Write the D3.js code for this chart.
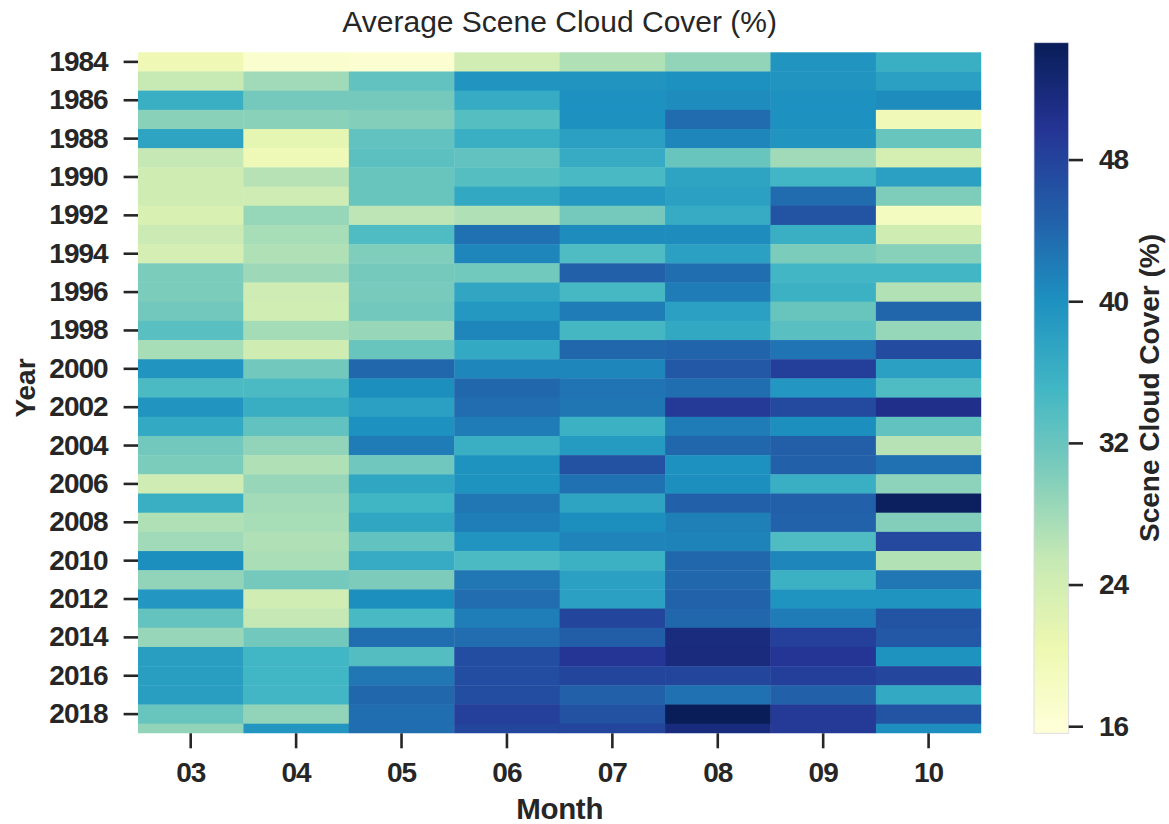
<!DOCTYPE html>
<html>
<head>
<meta charset="utf-8">
<script src="https://cdn.jsdelivr.net/npm/d3@7"></script>
<style>
  html, body { margin: 0; padding: 0; background: #ffffff; }
  svg { display: block; font-family: "Liberation Sans", Arial, Helvetica, sans-serif; }
</style>
</head>
<body>
<svg id="chart" width="1169" height="824"></svg>
<script>
// ---- data -------------------------------------------------------------
const months = ["03", "04", "05", "06", "07", "08", "09", "10"];
const years = d3.range(1984, 2020).map(String);
const yearTicks = years.filter((d, i) => i % 2 === 0);
const colorTicks = [16, 24, 32, 40, 48];
const colorDomain = [15.6, 54.6];

// average scene cloud cover (%) per month, one value per year 1984..2019
const m03 = [20.0, 25.3, 36.0, 29.5, 37.5, 25.5, 24.3, 24.3, 23.0, 24.7, 23.7, 30.5,
             30.5, 31.2, 33.2, 27.5, 39.5, 34.2, 39.5, 36.8, 31.2, 30.5, 24.5, 36.0,
             27.0, 28.0, 40.2, 29.0, 39.2, 32.3, 28.6, 38.3, 38.3, 38.3, 32.0, 29.0];
const m04 = [17.0, 28.0, 31.0, 29.5, 21.5, 19.8, 26.5, 24.5, 28.7, 27.5, 27.0, 28.2,
             24.5, 24.2, 27.7, 24.3, 31.2, 34.2, 36.2, 32.5, 29.0, 27.0, 28.6, 27.8,
             27.5, 27.0, 27.3, 31.0, 24.2, 25.5, 31.2, 35.1, 35.1, 35.0, 29.0, 39.3];
const m05 = [16.5, 32.5, 31.0, 30.0, 32.5, 33.0, 32.0, 32.0, 26.0, 34.0, 30.2, 31.0,
             30.8, 31.2, 28.6, 32.0, 44.0, 40.2, 38.0, 40.0, 42.0, 31.5, 37.2, 35.2,
             37.2, 32.5, 36.5, 30.4, 40.2, 34.5, 43.3, 33.7, 42.5, 44.0, 43.3, 43.3];
const m06 = [24.0, 39.5, 36.5, 33.5, 36.0, 32.5, 33.5, 37.0, 27.0, 43.0, 41.0, 31.3,
             37.3, 39.0, 41.0, 36.8, 41.0, 44.0, 43.4, 42.0, 36.0, 39.7, 39.7, 42.5,
             41.8, 39.5, 34.2, 42.5, 43.4, 41.8, 43.4, 46.8, 46.8, 46.8, 48.3, 47.8];
const m07 = [27.0, 39.5, 40.0, 40.0, 38.0, 36.5, 34.5, 39.0, 31.0, 40.5, 34.0, 44.7,
             34.7, 42.0, 34.8, 44.0, 41.0, 42.7, 42.6, 35.7, 38.7, 46.3, 43.0, 37.5,
             40.2, 41.2, 35.8, 38.0, 38.0, 47.8, 44.9, 49.6, 47.8, 44.7, 46.3, 47.8];
const m08 = [29.0, 40.0, 40.5, 43.5, 41.0, 32.0, 37.5, 38.0, 36.5, 40.5, 38.0, 43.3,
             42.0, 38.0, 37.0, 44.3, 45.5, 43.3, 49.2, 42.0, 44.0, 40.0, 40.2, 44.7,
             41.6, 41.3, 44.0, 44.0, 44.5, 44.0, 51.5, 51.6, 47.8, 43.0, 54.5, 51.7];
const m09 = [39.5, 39.5, 40.0, 40.0, 39.5, 28.0, 35.0, 43.5, 46.0, 36.0, 30.5, 35.0,
             35.8, 32.0, 33.2, 42.7, 48.5, 39.2, 47.2, 40.2, 44.8, 44.7, 36.0, 44.7,
             44.5, 34.0, 41.0, 35.8, 39.6, 42.0, 48.3, 49.6, 48.5, 44.7, 49.2, 49.2];
const m10 = [36.0, 38.0, 40.5, 19.5, 32.0, 23.5, 38.0, 30.3, 18.5, 24.3, 29.7, 35.0,
             26.8, 44.2, 28.7, 47.0, 38.0, 34.0, 50.5, 32.5, 26.5, 43.0, 29.3, 54.0,
             30.0, 47.3, 26.8, 42.5, 39.6, 46.0, 45.6, 39.7, 47.6, 36.8, 46.0, 40.3];

const monthSeries = [m03, m04, m05, m06, m07, m08, m09, m10];

// long-form table of cells built from the arrays above
const cells = [];
months.forEach((m, j) => {
  years.forEach((y, i) => cells.push({ month: m, year: y, value: monthSeries[j][i] }));
});

// ---- layout -----------------------------------------------------------
const svg = d3.select("#chart");
const ink = "#262626";
const plot = { left: 138, right: 981.3, top: 42.7, bottom: 733.3 };
const rowH = (plot.bottom - plot.top) / years.length;

// YlGnBu, linearly interpolated between its nine ColorBrewer anchors
const ylgnbu = ["#ffffd9", "#edf8b1", "#c7e9b4", "#7fcdbb", "#41b6c4",
                "#1d91c0", "#225ea8", "#253494", "#081d58"];
const color = d3.scaleSequential(d3.piecewise(d3.interpolateRgb, ylgnbu)).domain(colorDomain);

const x = d3.scaleBand().domain(months).range([plot.left, plot.right]);
// rows sit half a row lower than the axes box; the last row is clipped by it
const y = d3.scaleBand().domain(years).range([plot.top + rowH / 2, plot.bottom + rowH / 2]);

svg.append("defs").append("clipPath").attr("id", "plot-clip")
  .append("rect")
  .attr("x", plot.left).attr("y", plot.top)
  .attr("width", plot.right - plot.left).attr("height", plot.bottom - plot.top);

svg.append("g").attr("clip-path", "url(#plot-clip)")
  .selectAll("rect").data(cells).join("rect")
  .attr("x", d => x(d.month))
  .attr("y", d => y(d.year))
  .attr("width", x.bandwidth() + 0.4)
  .attr("height", y.bandwidth() + 0.4)
  .attr("fill", d => color(d.value));

// ---- axes -------------------------------------------------------------
const styleAxis = g => {
  g.select(".domain").remove();
  g.selectAll(".tick line").attr("stroke", ink).attr("stroke-width", 2.6);
  g.selectAll(".tick text")
    .attr("fill", ink)
    .style("font-size", "28px")
    .style("font-weight", "bold")
    .style("letter-spacing", "-1px");
};

svg.append("g")
  .attr("transform", `translate(${plot.left},0)`)
  .call(d3.axisLeft(y).tickValues(yearTicks).tickSize(14.4).tickPadding(16))
  .call(styleAxis);

svg.append("g")
  .attr("transform", `translate(0,${plot.bottom})`)
  .call(d3.axisBottom(x).tickSize(15).tickPadding(14))
  .call(styleAxis);

// ---- titles -----------------------------------------------------------
svg.append("text")
  .attr("x", (plot.left + plot.right) / 2).attr("y", 32)
  .attr("text-anchor", "middle").attr("fill", ink)
  .style("font-size", "30px")
  .text("Average Scene Cloud Cover (%)");

svg.append("text")
  .attr("x", (plot.left + plot.right) / 2).attr("y", 819)
  .attr("text-anchor", "middle").attr("fill", ink)
  .style("font-size", "29.5px").style("font-weight", "bold")
  .style("letter-spacing", "-0.3px")
  .text("Month");

svg.append("text")
  .attr("transform", `translate(35,${(plot.top + plot.bottom) / 2}) rotate(-90)`)
  .attr("text-anchor", "middle").attr("fill", ink)
  .style("font-size", "28px").style("font-weight", "bold")
  .text("Year");

// ---- colour bar -------------------------------------------------------
const bar = { left: 1034, right: 1068.7 };
const cbar = d3.scaleLinear().domain(colorDomain).range([plot.bottom, plot.top]);

const grad = svg.select("defs").append("linearGradient")
  .attr("id", "cbar-grad")
  .attr("x1", 0).attr("y1", 1).attr("x2", 0).attr("y2", 0);
d3.range(0, 1.0001, 1 / 64).forEach(t => {
  const v = colorDomain[0] + t * (colorDomain[1] - colorDomain[0]);
  grad.append("stop").attr("offset", t).attr("stop-color", color(v));
});

svg.append("rect")
  .attr("x", bar.left).attr("y", plot.top)
  .attr("width", bar.right - bar.left).attr("height", plot.bottom - plot.top)
  .attr("fill", "url(#cbar-grad)")
  .attr("stroke", "#d4d6e6").attr("stroke-width", 0.8);

svg.append("g")
  .attr("transform", `translate(${bar.right},0)`)
  .call(d3.axisRight(cbar).tickValues(colorTicks).tickSize(14.3).tickPadding(16))
  .call(styleAxis);

svg.append("text")
  .attr("transform", `translate(1159,${(plot.top + plot.bottom) / 2}) rotate(-90)`)
  .attr("text-anchor", "middle").attr("fill", ink)
  .style("font-size", "28px").style("font-weight", "bold")
  .text("Scene Cloud Cover (%)");
</script>
</body>
</html>
